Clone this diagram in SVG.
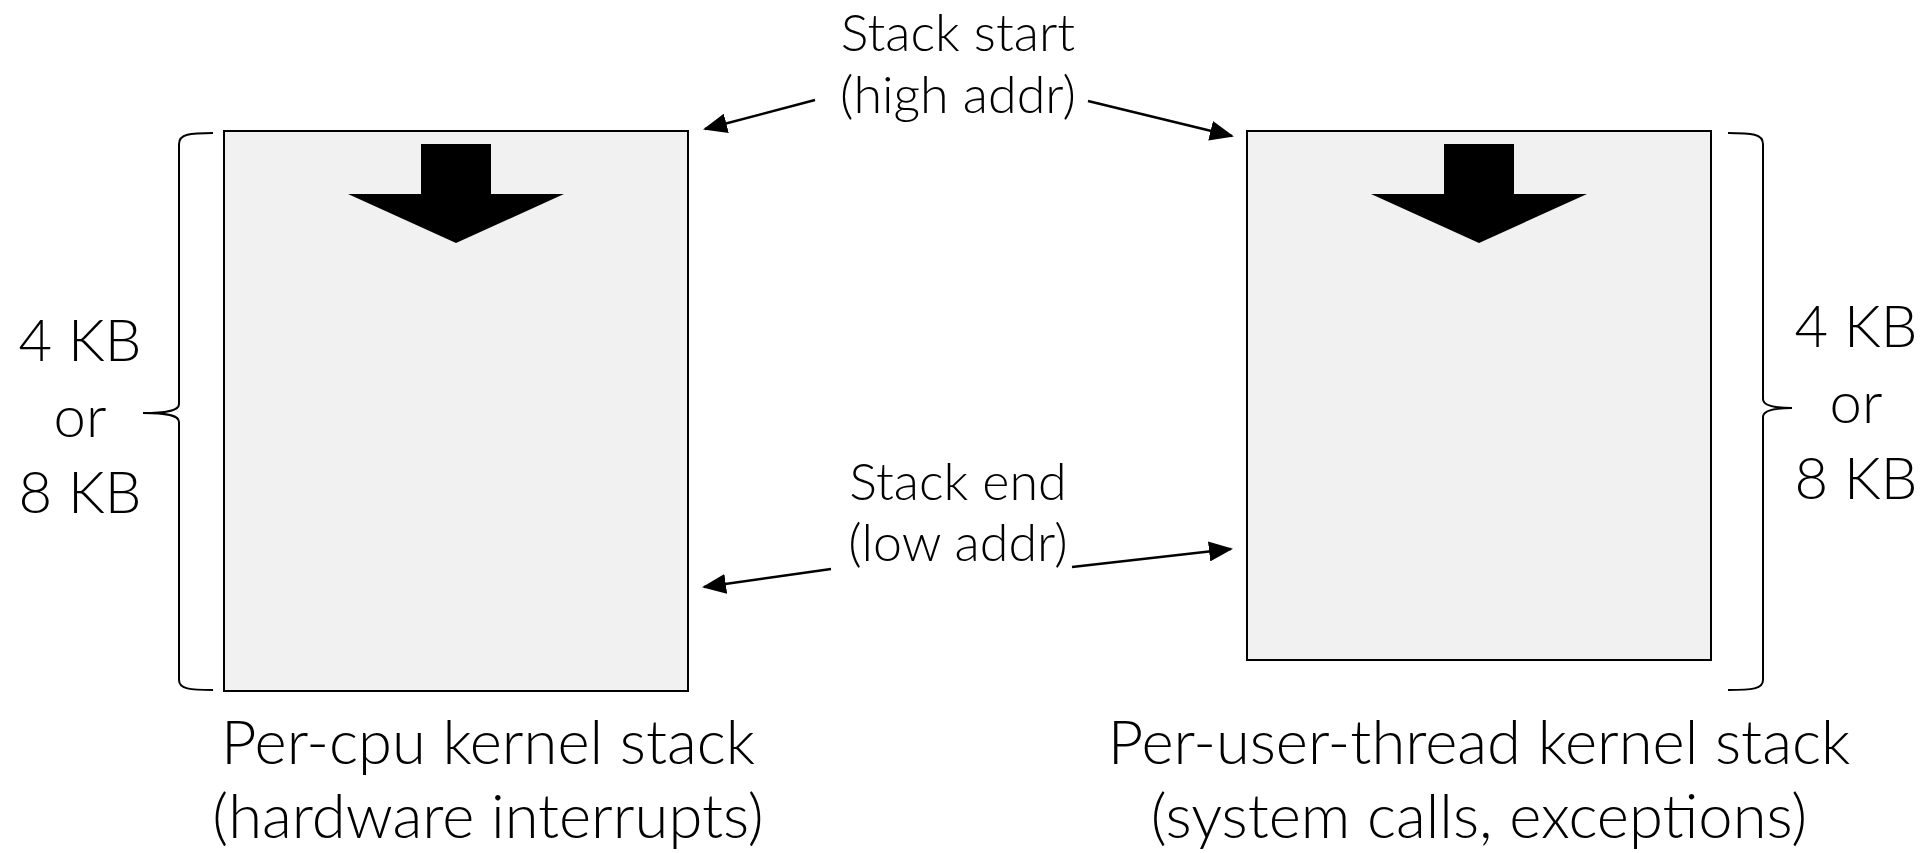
<svg xmlns="http://www.w3.org/2000/svg" width="1920" height="853" viewBox="0 0 1920 853">
<style>
  .box { fill: #f1f1f1; stroke: #000; stroke-width: 2; }
  .big { fill: #000; }
  .brace { fill: none; stroke: #000; stroke-width: 2; }
  .conn { fill: none; stroke: #000; stroke-width: 2.5; }
  text { font-family: Lato, "Open Sans", "Noto Sans", sans-serif; font-weight: 300; fill: #000; text-anchor: middle; }
  .lbl { font-size: 52px; }
  .size { font-size: 58px; }
  .cap { font-size: 61.5px; }
</style>
<defs>
  <marker id="ahd" markerUnits="userSpaceOnUse" markerWidth="24" markerHeight="20" refX="22" refY="10" orient="auto" viewBox="0 0 24 20">
    <path d="M0,0 L24,10 L0,20 Z" fill="#000"/>
  </marker>
</defs>
<rect width="1920" height="853" fill="#fff"/>

<g id="percpu-stack">
  <rect class="box" x="224" y="131" width="464" height="560"/>
  <polygon class="big" points="421,144 491,144 491,194 564,194 456,243 348,194 421,194"/>
  <text class="cap" x="488" y="764">Per-cpu kernel stack</text>
  <text class="cap" x="488" y="838">(hardware interrupts)</text>
</g>

<g id="perthread-stack">
  <rect class="box" x="1247" y="131" width="464" height="529"/>
  <polygon class="big" points="1444,144 1514,144 1514,194 1587,194 1479,243 1371,194 1444,194"/>
  <text class="cap" x="1479" y="764">Per-user-thread kernel stack</text>
  <text class="cap" x="1479" y="838">(system calls, exceptions)</text>
</g>

<g id="left-size">
  <path class="brace" d="M213,133 C190,133 179,134 179,144 L179,404 C179,410 170,413 143,413 C170,413 179,416 179,422 L179,680 C179,689 190,690 213,690"/>
  <text class="size" x="80" y="361">4 KB</text>
  <text class="size" x="80" y="437">or</text>
  <text class="size" x="80" y="513">8 KB</text>
</g>

<g id="right-size">
  <path class="brace" d="M1728,133 C1752,133 1763,134 1763,144 L1763,399 C1763,405 1772,408 1792,408 C1772,408 1763,411 1763,417 L1763,680 C1763,689 1752,690 1728,690"/>
  <text class="size" x="1856" y="347">4 KB</text>
  <text class="size" x="1856" y="423">or</text>
  <text class="size" x="1856" y="499">8 KB</text>
</g>

<g id="stack-start">
  <text class="lbl" x="958" y="51">Stack start</text>
  <text class="lbl" x="958" y="113">(high addr)</text>
</g>

<g id="stack-end">
  <text class="lbl" x="958" y="500">Stack end</text>
  <text class="lbl" x="958" y="561">(low addr)</text>
</g>

<g id="connectors">
  <line class="conn" x1="815" y1="100" x2="705" y2="129" marker-end="url(#ahd)"/>
  <line class="conn" x1="1088" y1="101" x2="1232" y2="136" marker-end="url(#ahd)"/>
  <line class="conn" x1="831" y1="569" x2="704" y2="587" marker-end="url(#ahd)"/>
  <line class="conn" x1="1072" y1="567" x2="1231" y2="549" marker-end="url(#ahd)"/>
</g>
</svg>
